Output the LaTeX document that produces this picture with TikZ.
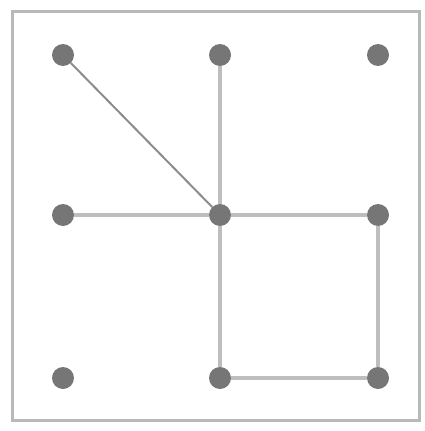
\documentclass[tikz,border=0pt]{standalone}
\usepackage{tikz}
\definecolor{dotgray}{RGB}{118,118,118}
\definecolor{edgegray}{RGB}{190,190,190}
\definecolor{diaggray}{RGB}{140,140,140}
\definecolor{framegray}{RGB}{185,185,185}
\tikzset{
  vertex/.style={circle,fill=dotgray,draw=none,minimum size=22pt,inner sep=0pt},
  edge/.style={edgegray,line width=3.5pt},
  diagedge/.style={diaggray,line width=2pt},
  frame/.style={framegray,line width=3pt},
}

\begin{document}
\begin{tikzpicture}[x=1pt,y=-1pt]
  \path[use as bounding box] (0,0) rectangle (425,431);
  \draw[frame] (12,11) rectangle (419,420);

  % grid of vertices
  \node[vertex] (a1) at (63,55) {};
  \node[vertex] (a2) at (220,55) {};
  \node[vertex] (a3) at (378,55) {};
  \node[vertex] (b1) at (63,215) {};
  \node[vertex] (b2) at (220,215) {};
  \node[vertex] (b3) at (378,215) {};
  \node[vertex] (c1) at (63,378) {};
  \node[vertex] (c2) at (220,378) {};
  \node[vertex] (c3) at (378,378) {};

  % edges
  \draw[diagedge] (a1) -- (b2);
  \draw[edge] (a2) -- (b2);
  \draw[edge] (b1) -- (b2);
  \draw[edge] (b2) -- (b3);
  \draw[edge] (b2) -- (c2);
  \draw[edge] (b3) -- (c3);
  \draw[edge] (c2) -- (c3);
\end{tikzpicture}
\end{document}
